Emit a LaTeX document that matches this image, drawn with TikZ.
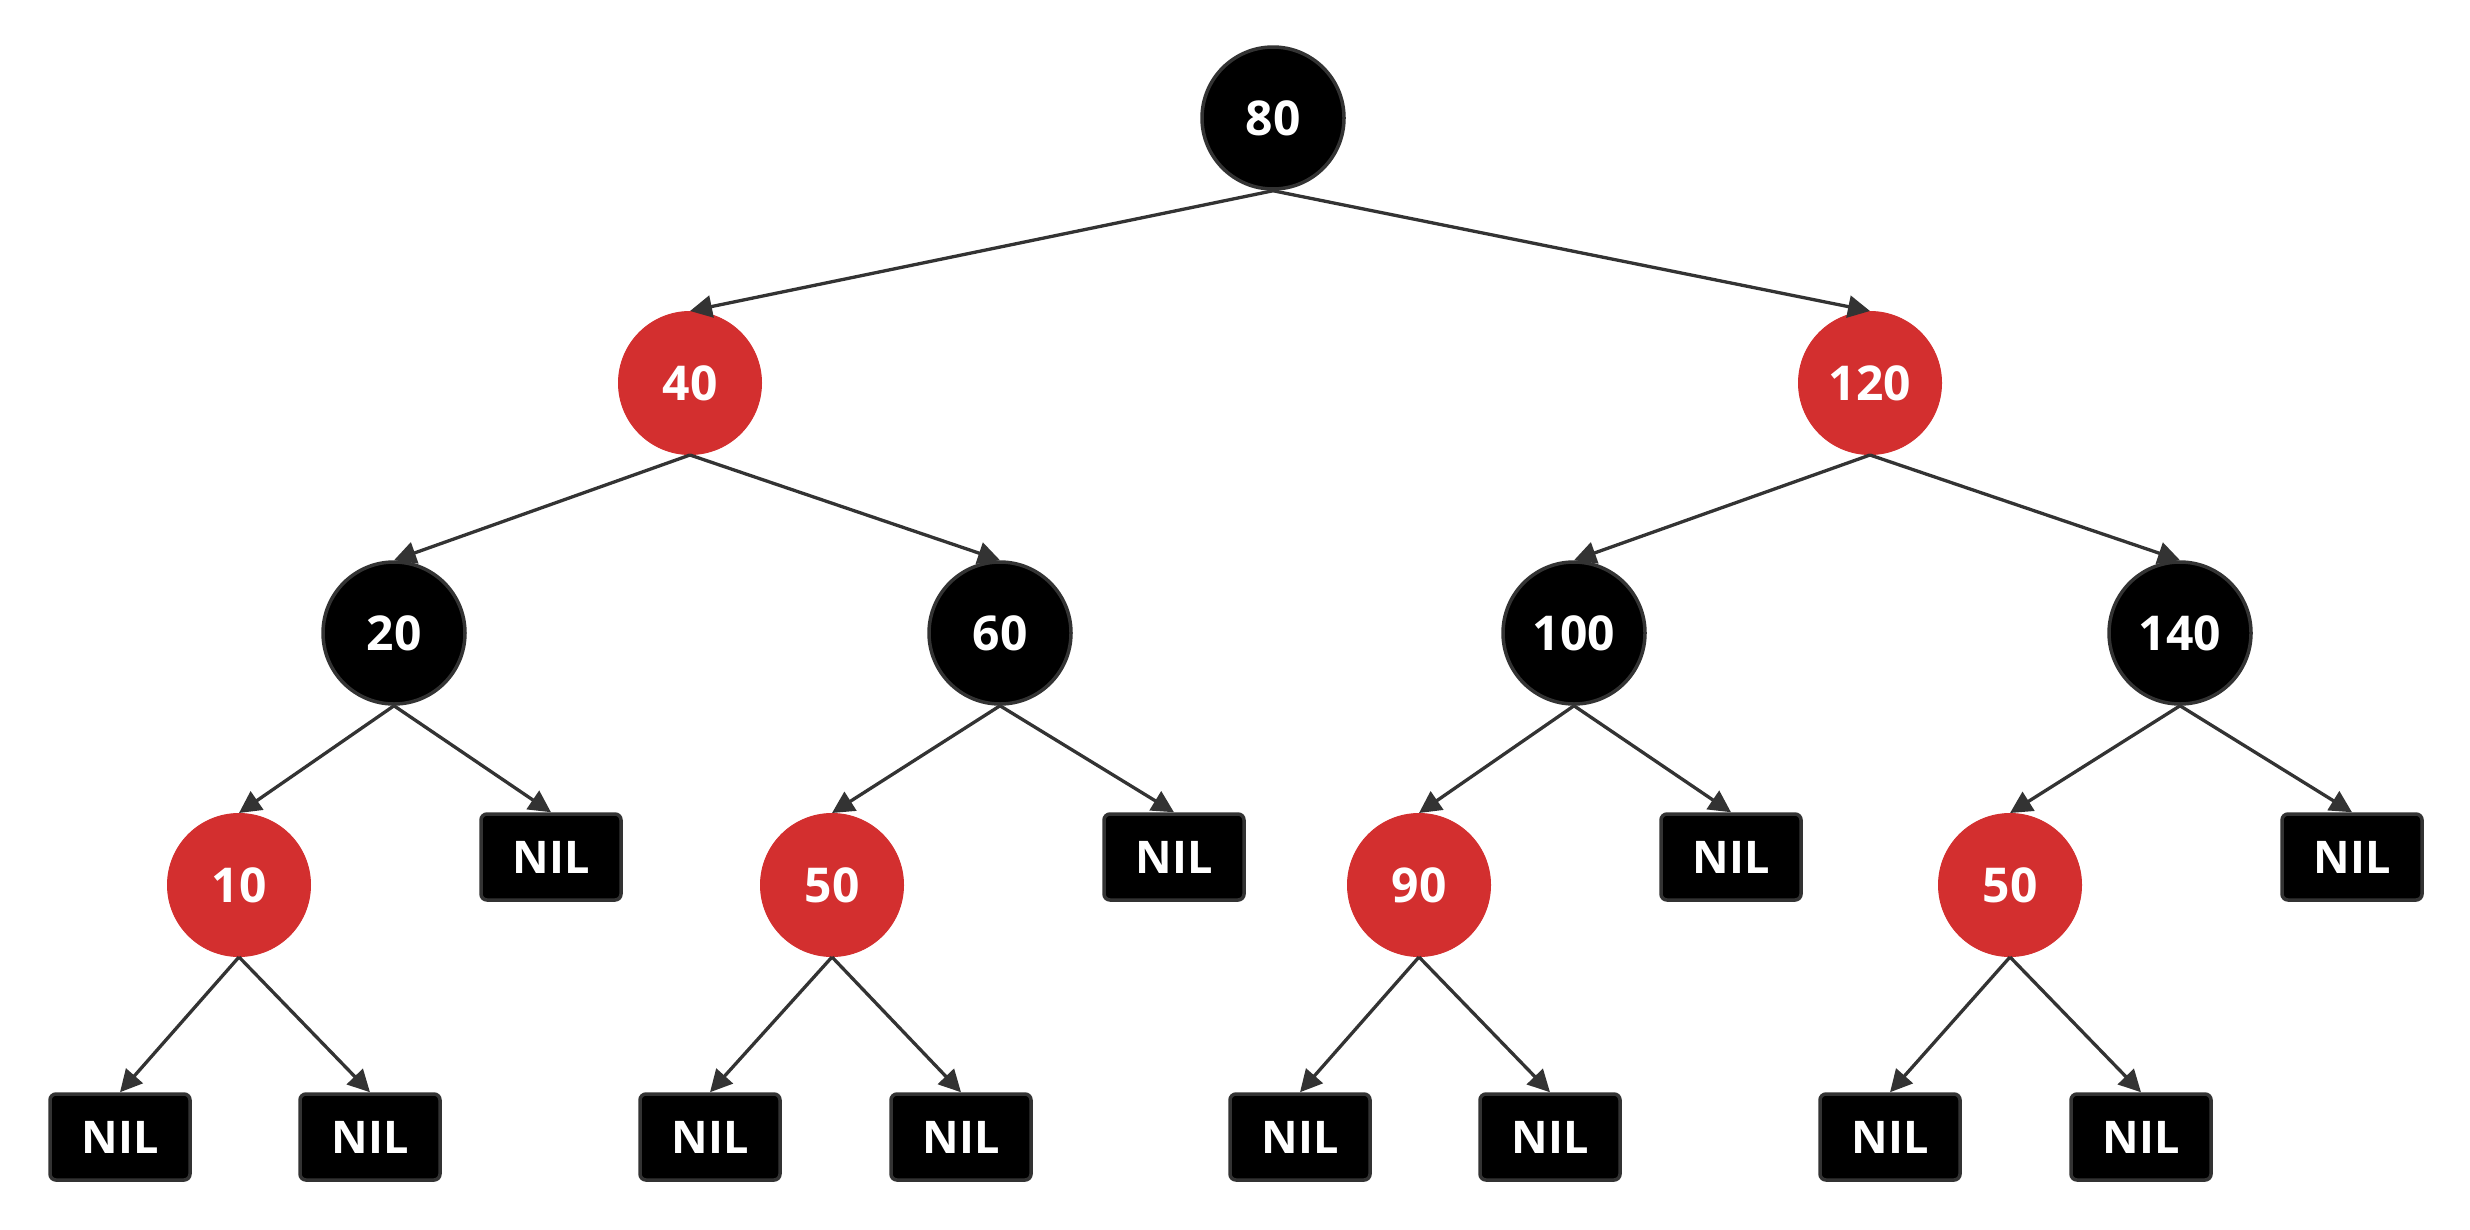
\documentclass[tikz,border=0pt]{standalone}
\usepackage{fontspec}
\setmainfont{Open Sans}
\usetikzlibrary{arrows.meta}
\definecolor{rbred}{HTML}{D32F2F}
\definecolor{edgegray}{HTML}{333333}
\tikzset{
  blacknode/.style={circle, fill=black, draw=edgegray, line width=3.5pt, minimum size=142pt, inner sep=0pt, text=white, font=\fontsize{48}{54}\selectfont\bfseries},
  rednode/.style={circle, fill=rbred, draw=rbred, line width=1pt, minimum size=143pt, inner sep=0pt, text=white, font=\fontsize{48}{54}\selectfont\bfseries},
  nilnode/.style={rectangle, rounded corners=6pt, fill=black, draw=edgegray, line width=3.5pt, minimum width=140pt, minimum height=86pt, inner sep=0pt, text=white, font=\fontsize{45}{50}\selectfont\bfseries},
  link/.style={draw=edgegray, line width=3.3pt, -{Triangle[length=22pt,width=22pt]}}
}
\begin{document}
\begin{tikzpicture}[x=1pt,y=-1pt]
\useasboundingbox (0,0) rectangle (2470,1229);
% level 0
\node[blacknode] (n80) at (1273,118) {80};
% level 1
\node[rednode] (n40) at (690,383) {40};
\node[rednode] (n120) at (1870,383) {120};
% level 2
\node[blacknode] (n20) at (394,633) {20};
\node[blacknode] (n60) at (1000,633) {60};
\node[blacknode] (n100) at (1574,633) {100};
\node[blacknode] (n140) at (2180,633) {140};
% level 3
\node[rednode] (n10) at (239,885) {10};
\node[nilnode] (nilA) at (551,857) {NIL};
\node[rednode] (n50a) at (832,885) {50};
\node[nilnode] (nilB) at (1174,857) {NIL};
\node[rednode] (n90) at (1419,885) {90};
\node[nilnode] (nilC) at (1731,857) {NIL};
\node[rednode] (n50b) at (2010,885) {50};
\node[nilnode] (nilD) at (2352,857) {NIL};
% level 4
\node[nilnode] (nil1) at (120,1137) {NIL};
\node[nilnode] (nil2) at (370,1137) {NIL};
\node[nilnode] (nil3) at (710,1137) {NIL};
\node[nilnode] (nil4) at (961,1137) {NIL};
\node[nilnode] (nil5) at (1300,1137) {NIL};
\node[nilnode] (nil6) at (1550,1137) {NIL};
\node[nilnode] (nil7) at (1890,1137) {NIL};
\node[nilnode] (nil8) at (2141,1137) {NIL};
% edges
\foreach \p/\c in {n80/n40, n80/n120, n40/n20, n40/n60, n120/n100, n120/n140,
  n20/n10, n20/nilA, n60/n50a, n60/nilB, n100/n90, n100/nilC, n140/n50b, n140/nilD,
  n10/nil1, n10/nil2, n50a/nil3, n50a/nil4, n90/nil5, n90/nil6, n50b/nil7, n50b/nil8}
  \draw[link] (\p.south) -- (\c.north);
\end{tikzpicture}
\end{document}
